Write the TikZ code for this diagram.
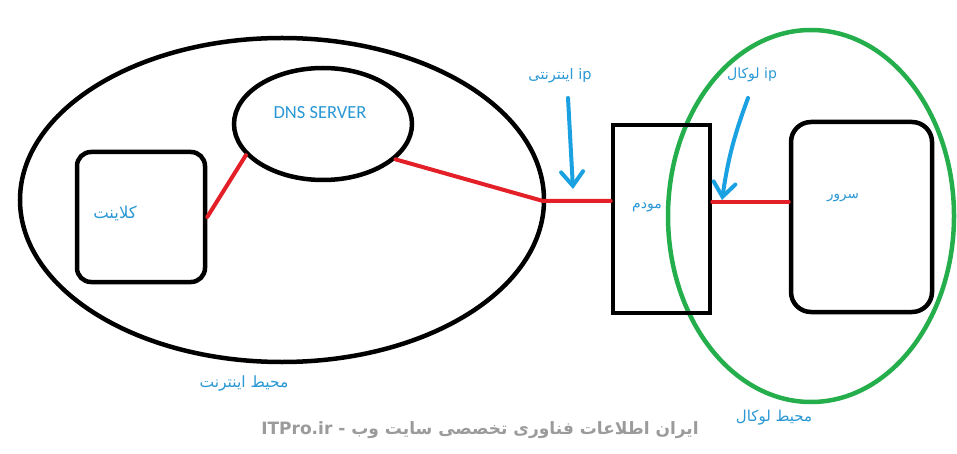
\documentclass[tikz,border=0pt]{standalone}
\usepackage{fontspec}
\usetikzlibrary{shapes.geometric,arrows.meta}
\TeXXeTstate=1
\newfontfamily\arabicfont[Script=Arabic]{DejaVu Sans}
\newfontfamily\calfont{Carlito}
\definecolor{linkred}{HTML}{E32028}
\definecolor{zonegreen}{HTML}{25AE4C}
\definecolor{arrowblue}{HTML}{1AA1E2}
\definecolor{textblue}{HTML}{2A98D4}
\definecolor{wmgray}{HTML}{9B9B9B}
\tikzset{
  zone/.style={ellipse, draw=black, line width=4.5pt, inner sep=0pt},
  boxshape/.style={rectangle, draw=black, line width=4.5pt, inner sep=0pt},
  link/.style={draw=linkred, line width=4pt, line cap=round, line join=round},
  pointer/.style={draw=arrowblue, line width=4pt, line cap=round,
    -{Straight Barb[length=14pt,width=22pt,line cap=round]}},
  lbl/.style={text=textblue, inner sep=0pt, font=\arabicfont\fontsize{15}{17}\selectfont},
}
\begin{document}
\begin{tikzpicture}[x=1pt,y=-1pt]
\useasboundingbox[fill=white] (0,0) rectangle (957,454);
% regions
\node[zone, minimum width=524pt, minimum height=324pt] (internet) at (282,200) {};
\node[zone, draw=zonegreen, minimum width=286pt, minimum height=372pt] (local) at (811,216) {};
% devices
\node[zone, minimum width=178pt, minimum height=112pt] (dns) at (323,124) {};
\node[boxshape, rounded corners=14pt, minimum width=128pt, minimum height=130pt] (client) at (141,217) {};
\node[boxshape, minimum width=97pt, minimum height=188pt] (modem) at (661.5,219) {};
\node[boxshape, rounded corners=20pt, minimum width=141pt, minimum height=190pt] (server) at (861.5,217) {};
% labels
\node[lbl, font=\calfont\fontsize{18.5}{20}\selectfont] (dnslbl) at (320,113) {DNS SERVER};
\node[lbl, font=\arabicfont\fontsize{16.5}{18}\selectfont] (clientlbl) at (115,213) {\beginR کلاینت\endR};
\node[lbl, font=\arabicfont\fontsize{14}{16}\selectfont] (modemlbl) at (647,207) {\beginR مودم\endR};
\node[lbl, font=\arabicfont\fontsize{13.5}{16}\selectfont] (serverlbl) at (843,198) {\beginR سرور\endR};
\node[lbl, font=\arabicfont\fontsize{14.5}{16}\selectfont] (ipnet) at (560,76) {\beginR\beginL ip\endL\ اینترنتی\endR};
\node[lbl, font=\arabicfont\fontsize{14}{16}\selectfont] (iplocal) at (752,75) {\beginR\beginL ip\endL\ لوکال\endR};
\node[lbl, font=\arabicfont\fontsize{15.5}{17}\selectfont] (netlbl) at (244,384) {\beginR محیط اینترنت\endR};
\node[lbl, font=\arabicfont\fontsize{15}{17}\selectfont] (locallbl) at (774,418) {\beginR محیط لوکال\endR};
\node[text=wmgray, inner sep=0pt, font=\arabicfont\bfseries\fontsize{17}{19}\selectfont] (wm) at (480,430) {\beginR ایران اطلاعات فناوری تخصصی سایت وب - \beginL ITPro.ir\endL\endR};
% connections
\coordinate (entry) at (543,201);
\coordinate (lanline) at (750,202);
\draw[link] (client.east) -- (dns.202);
\draw[link] (dns.334) -- (entry) -- (entry -| modem.west);
\draw[link] (modem.east |- lanline) -- (server.west |- lanline);
% pointers
\coordinate (ipAstart) at (568,98);
\coordinate (ipAtip) at (573,189);
\coordinate (ipBstart) at (748,98);
\coordinate (ipBtip) at (722,200);
\draw[pointer] (ipAstart) -- (ipAtip);
\draw[pointer] (ipBstart) to[bend right=6] (ipBtip);
\end{tikzpicture}
\end{document}
